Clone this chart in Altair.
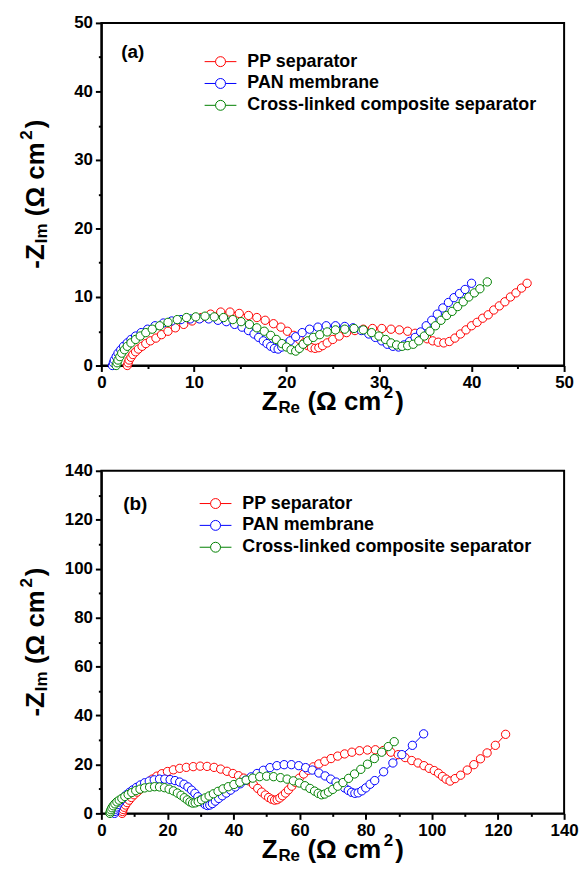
import altair as alt
import pandas as pd

SERIES = ["PP separator", "PAN membrane", "Cross-linked composite separator"]
COLORS = ["#FF0000", "#0000FF", "#008000"]
FONT = "Liberation Sans"

# ---------------- panel (a) ----------------
A_PP_X = [2.8, 2.9, 3.0, 3.2, 3.4, 3.7, 4.0, 4.4, 4.8, 5.3, 5.9, 6.5, 7.2, 8.0, 8.9, 9.8, 10.8, 11.8, 12.9, 13.9,
          14.9, 15.9, 16.8, 17.7, 18.6, 19.4, 20.1, 20.8, 21.4, 21.9, 22.3, 22.7, 23.1,
          23.5, 23.9, 24.4, 25.0, 25.7, 26.5, 27.4, 28.3, 29.3, 30.3, 31.3, 32.2, 33.1, 33.9, 34.6, 35.2, 35.8, 36.4, 37.0,
          37.6, 38.2, 38.8, 39.4, 40.0, 40.6, 41.2, 41.8, 42.4, 43.0, 43.6, 44.2, 44.8, 45.4, 46.0]
A_PP_Y = [0.0, 0.4, 0.8, 1.2, 1.6, 2.0, 2.4, 2.8, 3.2, 3.6, 4.0, 4.5, 5.0, 5.5, 6.0, 6.5, 7.0, 7.5, 7.8, 7.8,
          7.6, 7.3, 7.0, 6.6, 6.1, 5.6, 5.0, 4.4, 3.8, 3.3, 2.9, 2.6, 2.5,
          2.6, 2.9, 3.3, 3.8, 4.3, 4.8, 5.1, 5.3, 5.4, 5.4, 5.3, 5.2, 5.0, 4.7, 4.3, 3.9, 3.6, 3.4, 3.3,
          3.5, 4.0, 4.6, 5.2, 5.8, 6.3, 6.9, 7.4, 8.1, 8.7, 9.3, 10.0, 10.6, 11.3, 12.0]

A_PAN_X = [1.2, 1.3, 1.4, 1.6, 1.8, 2.1, 2.4, 2.8, 3.2, 3.7, 4.3, 5.0, 5.8, 6.7, 7.6, 8.6, 9.6, 10.6, 11.6, 12.6,
           13.5, 14.4, 15.2, 15.9, 16.5, 17.0, 17.5, 17.9, 18.3, 18.7, 19.1,
           19.5, 19.9, 20.4, 21.0, 21.7, 22.5, 23.4, 24.3, 25.3, 26.3, 27.2, 28.1, 28.9, 29.6, 30.3, 30.9, 31.5, 32.1,
           32.7, 33.3, 33.9, 34.5, 35.1, 35.7, 36.3, 36.9, 37.5, 38.1, 38.7, 39.3, 40.0]
A_PAN_Y = [0.0, 0.4, 0.8, 1.3, 1.8, 2.3, 2.8, 3.3, 3.8, 4.3, 4.8, 5.3, 5.8, 6.2, 6.5, 6.7, 6.8, 6.8, 6.8, 6.6,
           6.4, 6.0, 5.6, 5.1, 4.6, 4.1, 3.6, 3.2, 2.8, 2.5, 2.4,
           2.7, 3.1, 3.6, 4.2, 4.8, 5.3, 5.6, 5.8, 5.8, 5.7, 5.5, 5.1, 4.6, 4.1, 3.6, 3.1, 2.8, 2.7,
           3.0, 3.5, 4.1, 4.9, 5.8, 6.6, 7.5, 8.4, 9.2, 9.9, 10.5, 11.1, 12.0]

A_CL_X = [1.6, 1.7, 1.8, 2.0, 2.2, 2.5, 2.8, 3.2, 3.7, 4.2, 4.8, 5.5, 6.3, 7.2, 8.2, 9.2, 10.2, 11.2, 12.2, 13.2,
          14.2, 15.1, 16.0, 16.8, 17.6, 18.3, 18.9, 19.5, 20.0, 20.5, 21.0,
          21.4, 21.8, 22.3, 22.9, 23.6, 24.4, 25.3, 26.3, 27.3, 28.3, 29.2, 30.0, 30.7, 31.3, 31.9, 32.5,
          33.1, 33.7, 34.3, 34.9, 35.5, 36.1, 36.7, 37.3, 37.9, 38.5, 39.1, 39.7, 40.3, 40.9, 41.7]
A_CL_Y = [0.0, 0.4, 0.8, 1.3, 1.8, 2.3, 2.8, 3.3, 3.8, 4.3, 4.8, 5.3, 5.8, 6.3, 6.7, 7.0, 7.1, 7.2, 7.1, 7.0,
          6.7, 6.4, 6.0, 5.5, 5.0, 4.4, 3.8, 3.2, 2.7, 2.3, 2.1,
          2.5, 3.1, 3.6, 4.1, 4.5, 4.9, 5.2, 5.3, 5.4, 5.2, 4.8, 4.3, 3.8, 3.3, 3.0, 2.8,
          2.9, 3.1, 3.6, 4.3, 5.0, 5.8, 6.6, 7.3, 7.9, 8.6, 9.3, 10.0, 10.6, 11.2, 12.2]

# ---------------- panel (b) ----------------
B_PP_X = [6.3, 6.4, 6.6, 6.9, 7.3, 7.8, 8.4, 9.1, 9.9, 10.8, 11.8, 12.9, 14.1, 15.4, 16.8, 18.3, 20.0,
          21.8, 23.7, 25.7, 27.8, 29.9, 32.0, 34.1, 36.1, 38.0, 39.8, 41.5, 43.1, 44.6, 46.0, 47.3, 48.5, 49.6, 50.6, 51.5, 52.4,
          53.2, 54.0, 54.8, 55.7, 56.6, 57.6, 58.7, 59.9, 61.2, 62.6, 64.1, 65.8, 67.6, 69.5, 71.5, 73.6, 75.8, 78.1, 80.5, 82.9,
          85.3, 87.6, 89.8, 91.9, 93.9, 95.8, 97.6, 99.2, 100.7, 102.0, 103.2, 104.3, 105.5,
          107.0, 108.7, 110.7, 112.7, 114.7, 116.7, 119.2, 122.3]
B_PP_Y = [0.0, 0.8, 1.6, 2.5, 3.4, 4.4, 5.4, 6.5, 7.6, 8.7, 9.9, 11.1, 12.6, 14.0, 15.2, 16.2, 17.1,
          17.8, 18.4, 18.8, 19.1, 19.3, 19.2, 18.8, 18.1, 17.2, 16.3, 15.4, 14.4, 13.3, 11.8, 10.2, 8.7, 7.5, 6.5, 5.8, 5.4,
          5.6, 6.3, 7.2, 8.3, 9.6, 11.1, 12.7, 14.4, 16.1, 17.6, 19.0, 20.2, 21.3, 22.4, 23.4, 24.3, 25.0, 25.6, 25.9, 26.0,
          25.7, 25.0, 24.0, 22.8, 21.6, 20.6, 19.5, 18.4, 17.5, 16.4, 15.1, 14.0, 13.2,
          14.2, 15.6, 17.7, 19.9, 22.3, 24.7, 27.8, 32.3]

B_PAN_X = [4.0, 4.1, 4.3, 4.6, 5.0, 5.5, 6.1, 6.8, 7.6, 8.5, 9.5, 10.6, 11.8, 13.1, 14.5, 16.0, 17.6, 19.2, 20.8, 22.3,
           23.7, 25.0, 26.2, 27.3, 28.3, 29.2, 30.0, 30.7, 31.4, 32.1, 32.8, 33.6, 34.5, 35.5, 36.6, 37.8, 39.1, 40.5, 42.0, 43.6,
           45.3, 47.1, 49.0, 51.0, 53.1, 55.3, 57.5, 59.7, 61.8, 63.8, 65.8, 67.7, 69.4, 71.0, 72.4, 73.6, 74.7, 75.7, 76.7, 77.7,
           78.8, 80.0, 81.3, 82.7, 85.4, 88.2, 90.9, 94.1, 97.5]
B_PAN_Y = [0.0, 0.8, 1.7, 2.6, 3.6, 4.6, 5.6, 6.6, 7.6, 8.6, 9.6, 10.6, 11.6, 12.5, 13.2, 13.7, 14.0, 14.0, 13.8, 13.4,
           12.8, 11.9, 10.8, 9.5, 8.2, 6.8, 5.5, 4.5, 3.6, 3.2, 3.4, 4.0, 5.0, 6.1, 7.2, 8.3, 9.5, 10.8, 12.1, 13.5,
           14.9, 16.3, 17.6, 18.7, 19.5, 19.9, 19.9, 19.5, 18.7, 17.7, 16.5, 15.3, 14.0, 12.8, 11.5, 10.4, 9.4, 8.6, 8.2, 8.4,
           9.2, 10.4, 11.9, 13.4, 17.0, 20.6, 24.0, 27.8, 32.5]

B_CL_X = [2.6, 2.7, 2.9, 3.2, 3.6, 4.1, 4.7, 5.4, 6.2, 7.1, 8.1, 9.2, 10.4, 11.7, 13.1, 14.6, 16.1, 17.6, 19.1, 20.5,
          21.8, 23.0, 24.1, 25.1, 26.0, 26.8, 27.6, 28.4, 29.3, 30.3, 31.4, 32.6, 33.9, 35.3, 36.8, 38.4, 40.1, 41.9, 43.8, 45.8,
          47.9, 50.0, 52.1, 54.2, 56.2, 58.1, 59.9, 61.6, 63.1, 64.5, 65.6, 66.6, 67.6, 68.7, 70.0, 71.5, 73.1, 74.8, 76.6, 78.5,
          80.5, 82.6, 84.8, 86.8, 88.6]
B_CL_Y = [0.0, 0.7, 1.5, 2.3, 3.1, 3.9, 4.7, 5.4, 6.1, 6.9, 7.7, 8.5, 9.3, 9.9, 10.4, 10.7, 10.9, 10.8, 10.5, 9.9,
          9.2, 8.3, 7.4, 6.4, 5.5, 4.7, 4.2, 4.3, 4.8, 5.5, 6.3, 7.1, 8.0, 9.0, 10.0, 10.9, 11.8, 12.7, 13.6, 14.4,
          15.0, 15.2, 15.0, 14.6, 14.0, 13.3, 12.4, 11.3, 10.2, 9.1, 8.2, 7.6, 7.9, 8.7, 9.8, 11.1, 12.6, 14.3, 16.1, 18.0,
          20.1, 22.4, 25.0, 27.3, 29.3]

for xs, ys in [(A_PP_X, A_PP_Y), (A_PAN_X, A_PAN_Y), (A_CL_X, A_CL_Y),
               (B_PP_X, B_PP_Y), (B_PAN_X, B_PAN_Y), (B_CL_X, B_CL_Y)]:
    assert len(xs) == len(ys), (len(xs), len(ys))


def frame(pairs):
    rows = []
    for name, (xs, ys) in zip(SERIES, pairs):
        for i, (x, y) in enumerate(zip(xs, ys)):
            rows.append({"series": name, "order": i, "zre": x, "zim": y})
    return pd.DataFrame(rows)


DF_A = frame([(A_PP_X, A_PP_Y), (A_PAN_X, A_PAN_Y), (A_CL_X, A_CL_Y)])
DF_B = frame([(B_PP_X, B_PP_Y), (B_PAN_X, B_PAN_Y), (B_CL_X, B_CL_Y)])

W, H = 466, 345
BIG, SMALL = 26, 17
CW = {"-": .333, "Z": .611, "I": .278, "m": .889, " ": .278, "(": .333, ")": .333,
      "Ω": .768, "c": .556, "2": .556, "R": .722, "e": .556}


def tw(s, size):
    return sum(CW[c] for c in s) * size


ONE = pd.DataFrame({"k": [0]})


def txt(text, x, y, size, angle=0):
    return alt.Chart(ONE).mark_text(
        text=text, font=FONT, fontWeight="bold", fontSize=size, angle=angle,
        align="left", baseline="alphabetic", color="black"
    ).encode(x=alt.value(x), y=alt.value(y))


# (text, font size, baseline shift, gap before the piece in px)
def title_pieces(first):
    return [(first, BIG, 0, 0.0), ("Re" if first == "Z" else "Im", SMALL, 3, 1.0),
            ("(Ω cm", BIG, 0, 7.5), ("2", SMALL, -12, 3.5), (")", BIG, 0, 2.0)]


def x_title(base_y):
    pieces = title_pieces("Z")
    total = sum(tw(s, z) + g for s, z, _, g in pieces)
    x = W / 2 - total / 2
    out = []
    for s, z, sh, g in pieces:
        x += g
        out.append(txt(s, x, base_y + sh, z))
        x += tw(s, z)
    return out


def y_title(base_x):
    pieces = title_pieces("-Z")
    total = sum(tw(s, z) + g for s, z, _, g in pieces)
    y = H / 2 + total / 2
    out = []
    for s, z, sh, g in pieces:
        y -= g
        out.append(txt(s, base_x + sh, y, z, angle=270))
        y -= tw(s, z)
    return out


LEG_PATH = "M-3.2,0L-1,0M1,0L3.2,0M-1,0A1,1 0 1,1 1,0A1,1 0 1,1 -1,0Z"


def axis(step, maxv):
    minor = step // 2
    return alt.Axis(
        values=list(range(0, maxv + 1, minor)),
        labelExpr=f"datum.value % {step} === 0 ? datum.label : ''",
        tickSize={"condition": {"test": f"datum.value % {step} === 0", "value": 6}, "value": 3},
        title=None, grid=False, labelFont=FONT, labelFontWeight="bold", labelFontSize=17,
        labelColor="black", tickColor="black", tickWidth=2, domainColor="black", domainWidth=2,
        labelPadding=3, labelOverlap=False, labelFlush=False,
    )


def panel(df, maxv, step, tag, leg_x, leg_y, tag_x, tag_y):
    xs = alt.Scale(domain=[0, maxv], nice=False, zero=False)
    ys = alt.Scale(domain=[0, maxv], nice=False, zero=False)
    cscale = alt.Scale(domain=SERIES, range=COLORS)
    legend = alt.Legend(
        title=None, orient="none", legendX=leg_x, legendY=leg_y,
        symbolType=LEG_PATH, symbolSize=100, symbolStrokeWidth=1, symbolFillColor="white",
        labelFont=FONT, labelFontSize=18, labelFontWeight="bold", labelColor="black",
        labelOffset=18, rowPadding=4, padding=0, labelLimit=0,
    )
    color = alt.Color("series:N", scale=cscale, legend=legend)
    xenc = alt.X("zre:Q", scale=xs, axis=axis(step, maxv))
    yenc = alt.Y("zim:Q", scale=ys, axis=axis(step, maxv))
    base = alt.Chart(df)
    lines = base.mark_line(strokeWidth=1).encode(
        x=xenc, y=yenc, order="order:Q", color=color, detail="series:N",
    )
    pts = base.mark_point(shape="circle", filled=False, fill="white", size=70,
                          strokeWidth=1, opacity=1).encode(x=xenc, y=yenc, color=color)
    layers = [lines, pts, txt(tag, tag_x, tag_y, 19)] + x_title(H + 45) + y_title(-58)
    return alt.layer(*layers).properties(width=W, height=H)


pa = panel(DF_A, 50, 10, "(a)", 111, 30, 20, 35)
pb = panel(DF_B, 140, 20, "(b)", 106, 24, 22, 40)

chart = alt.vconcat(pa, pb, spacing=44).properties(
    padding={"left": 8, "top": 2, "right": 0, "bottom": 0}
).configure_view(stroke="black", strokeWidth=2).resolve_scale(color="independent")

chart.save("out.html", embed_options={"renderer": "svg", "actions": False})
